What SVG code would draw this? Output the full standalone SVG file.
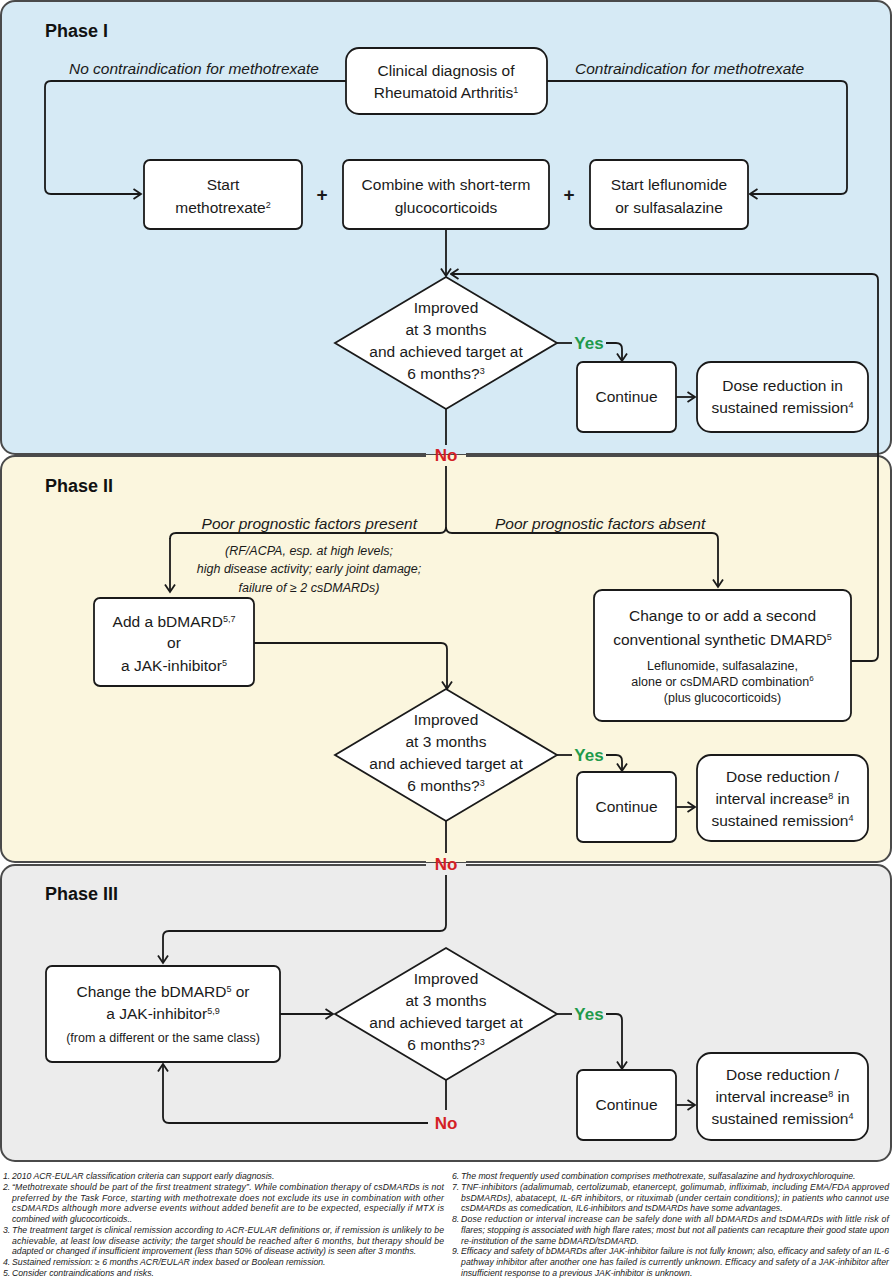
<svg xmlns="http://www.w3.org/2000/svg" width="893" height="1280" viewBox="0 0 893 1280">
<style>
.panel{stroke:#4a4a4a;stroke-width:2}
.node{fill:#fff;stroke:#1a1a1a;stroke-width:1.8}
.t{font-family:"Liberation Sans",Arial,sans-serif;font-size:15.5px;fill:#1a1a1a;text-anchor:middle}
.s{font-size:12.5px}
.sup{font-size:9px}
.plus{font-family:"Liberation Sans",Arial,sans-serif;font-size:19px;font-weight:bold;fill:#1a1a1a;text-anchor:middle}
.lab{font-family:"Liberation Sans",Arial,sans-serif;font-style:italic;font-size:15.5px;fill:#1a1a1a}
.labs{font-family:"Liberation Sans",Arial,sans-serif;font-style:italic;font-size:12.5px;fill:#1a1a1a;text-anchor:middle}
.ph{font-family:"Liberation Sans",Arial,sans-serif;font-weight:bold;font-size:18px;fill:#111}
.yes{font-family:"Liberation Sans",Arial,sans-serif;font-weight:bold;font-size:17px;fill:#1f9a4b;text-anchor:middle}
.no{font-family:"Liberation Sans",Arial,sans-serif;font-weight:bold;font-size:17px;fill:#d41f26;text-anchor:middle}
.c{fill:none;stroke:#1a1a1a;stroke-width:1.8}
.ar{marker-end:url(#a)}
.fn{font-family:"Liberation Sans",Arial,sans-serif;font-style:italic;font-size:8.7px;fill:#222}
</style>
<defs>
<marker id="a" viewBox="0 0 12 12" refX="10.5" refY="6" markerWidth="12" markerHeight="12" markerUnits="userSpaceOnUse" orient="auto">
<path d="M3,1 L10.5,6 L3,11" fill="none" stroke="#1a1a1a" stroke-width="1.8"/>
</marker>
</defs>

<g id="panels">
<rect class="panel" x="1" y="1" width="890" height="453" rx="14" fill="#d6eaf5"/>
<rect class="panel" x="1" y="456" width="890" height="406" rx="14" fill="#fbf6de"/>
<rect class="panel" x="1" y="865" width="890" height="296" rx="14" fill="#ececec"/>
<rect x="426" y="444" width="40" height="10" fill="#d6eaf5"/>
<rect x="426" y="455" width="40" height="10" fill="#fbf6de"/>
<rect x="426" y="853" width="40" height="9" fill="#fbf6de"/>
<rect x="426" y="863" width="40" height="11" fill="#ececec"/>
<text class="ph" x="45" y="37">Phase I</text>
<text class="ph" x="45" y="492">Phase II</text>
<text class="ph" x="45" y="900">Phase III</text>
</g>

<g id="connectors">
<path class="c ar" d="M346,81 H51 Q45,81 45,87 V188 Q45,194 51,194 H141"/>
<path class="c ar" d="M547,81 H841 Q847,81 847,87 V188 Q847,194 841,194 H750"/>
<text class="lab" x="69" y="74">No contraindication for methotrexate</text>
<text class="lab" x="575" y="74">Contraindication for methotrexate</text>
<text class="plus" x="322" y="201">+</text>
<text class="plus" x="569" y="201">+</text>
<path class="c ar" d="M446,229 V276"/>
<path class="c ar" d="M851,661 H872 Q878,661 878,655 V280 Q878,274 872,274 H451"/>
<path class="c" d="M557,343 H572"/>
<text class="yes" x="589" y="349">Yes</text>
<path class="c ar" d="M606,343 H616 Q622,343 622,349 V361"/>
<path class="c ar" d="M676,397 H695"/>
<path class="c" d="M446,409 V445"/>
<text class="no" x="446" y="461">No</text>
<path class="c" d="M446,466 V527 Q446,533 440,533 H176 Q170,533 170,539"/>
<path class="c ar" d="M170,538 V592"/>
<path class="c ar" d="M446,527 Q446,533 452,533 H712 Q718,533 718,539 V587"/>
<text class="lab" x="417" y="529" text-anchor="end">Poor prognostic factors present</text>
<text class="lab" x="495" y="529">Poor prognostic factors absent</text>
<text class="labs" x="309" y="555">(RF/ACPA, esp. at high levels;</text>
<text class="labs" x="309" y="573">high disease activity; early joint damage;</text>
<text class="labs" x="309" y="592">failure of ≥ 2 csDMARDs)</text>
<path class="c ar" d="M254,643 H441 Q447,643 447,649 V689"/>
<path class="c" d="M557,755 H572"/>
<text class="yes" x="589" y="761">Yes</text>
<path class="c ar" d="M606,755 H616 Q622,755 622,761 V771"/>
<path class="c ar" d="M676,807 H695"/>
<path class="c" d="M446,821 V853"/>
<text class="no" x="446" y="870">No</text>
<path class="c ar" d="M446,875 V925 Q446,931 440,931 H169 Q163,931 163,937 V963"/>
<path class="c ar" d="M280,1014 H333"/>
<path class="c" d="M557,1014 H572"/>
<text class="yes" x="589" y="1020">Yes</text>
<path class="c ar" d="M606,1014 H616 Q622,1014 622,1020 V1069"/>
<path class="c ar" d="M676,1105 H695"/>
<path class="c" d="M446,1080 V1110"/>
<text class="no" x="446" y="1129">No</text>
<path class="c ar" d="M428,1123 H169 Q163,1123 163,1117 V1064"/>
</g>

<g id="n-diagnosis">
<rect class="node" x="346" y="48" width="201" height="66" rx="13"/>
<text class="t" x="446" y="76">Clinical diagnosis of</text>
<text class="t" x="446" y="98">Rheumatoid Arthritis<tspan class="sup" dy="-5">1</tspan></text>
</g>
<g id="n-mtx">
<rect class="node" x="144" y="160" width="158" height="69" rx="6"/>
<text class="t" x="223" y="190">Start</text>
<text class="t" x="223" y="213">methotrexate<tspan class="sup" dy="-5">2</tspan></text>
</g>
<g id="n-gc">
<rect class="node" x="343" y="160" width="206" height="69" rx="6"/>
<text class="t" x="446" y="190">Combine with short-term</text>
<text class="t" x="446" y="213">glucocorticoids</text>
</g>
<g id="n-lef">
<rect class="node" x="590" y="160" width="158" height="69" rx="6"/>
<text class="t" x="669" y="190">Start leflunomide</text>
<text class="t" x="669" y="213">or sulfasalazine</text>
</g>
<g id="n-dec1">
<polygon class="node" points="446,277 557,343 446,409 335,343"/>
<text class="t" x="446" y="313">Improved</text>
<text class="t" x="446" y="335">at 3 months</text>
<text class="t" x="446" y="357">and achieved target at</text>
<text class="t" x="446" y="379">6 months?<tspan class="sup" dy="-5">3</tspan></text>
</g>
<g id="n-cont1">
<rect class="node" x="577" y="362" width="99" height="70" rx="6"/>
<text class="t" x="626.5" y="402">Continue</text>
</g>
<g id="n-dose1">
<rect class="node" x="697" y="362" width="171" height="70" rx="14"/>
<text class="t" x="782.5" y="391">Dose reduction in</text>
<text class="t" x="782.5" y="413">sustained remission<tspan class="sup" dy="-5">4</tspan></text>
</g>

<g id="n-bdmard">
<rect class="node" x="94" y="598" width="160" height="88" rx="6"/>
<text class="t" x="174" y="627">Add a bDMARD<tspan class="sup" dy="-5">5,7</tspan></text>
<text class="t" x="174" y="648">or</text>
<text class="t" x="174" y="671">a JAK-inhibitor<tspan class="sup" dy="-5">5</tspan></text>
</g>
<g id="n-csdmard">
<rect class="node" x="594" y="590" width="257" height="131" rx="8"/>
<text class="t" x="722.5" y="621">Change to or add a second</text>
<text class="t" x="722.5" y="645">conventional synthetic DMARD<tspan class="sup" dy="-5">5</tspan></text>
<text class="t s" x="722.5" y="670">Leflunomide, sulfasalazine,</text>
<text class="t s" x="722.5" y="686">alone or csDMARD combination<tspan class="sup" dy="-5" style="font-size:8px">6</tspan></text>
<text class="t s" x="722.5" y="702">(plus glucocorticoids)</text>
</g>
<g id="n-dec2">
<polygon class="node" points="446,689 557,755 446,821 335,755"/>
<text class="t" x="446" y="725">Improved</text>
<text class="t" x="446" y="747">at 3 months</text>
<text class="t" x="446" y="769">and achieved target at</text>
<text class="t" x="446" y="791">6 months?<tspan class="sup" dy="-5">3</tspan></text>
</g>
<g id="n-cont2">
<rect class="node" x="577" y="772" width="99" height="70" rx="6"/>
<text class="t" x="626.5" y="812">Continue</text>
</g>
<g id="n-dose2">
<rect class="node" x="697" y="755" width="171" height="86" rx="14"/>
<text class="t" x="782.5" y="782">Dose reduction /</text>
<text class="t" x="782.5" y="804">interval increase<tspan class="sup" dy="-5">8</tspan><tspan dy="5"> in</tspan></text>
<text class="t" x="782.5" y="826">sustained remission<tspan class="sup" dy="-5">4</tspan></text>
</g>

<g id="n-change">
<rect class="node" x="46" y="966" width="234" height="96" rx="6"/>
<text class="t" x="163" y="997">Change the bDMARD<tspan class="sup" dy="-5">5</tspan><tspan dy="5"> or</tspan></text>
<text class="t" x="163" y="1019">a JAK-inhibitor<tspan class="sup" dy="-5">5,9</tspan></text>
<text class="t s" x="163" y="1042">(from a different or the same class)</text>
</g>
<g id="n-dec3">
<polygon class="node" points="446,948 557,1014 446,1080 335,1014"/>
<text class="t" x="446" y="984">Improved</text>
<text class="t" x="446" y="1006">at 3 months</text>
<text class="t" x="446" y="1028">and achieved target at</text>
<text class="t" x="446" y="1050">6 months?<tspan class="sup" dy="-5">3</tspan></text>
</g>
<g id="n-cont3">
<rect class="node" x="577" y="1070" width="99" height="70" rx="6"/>
<text class="t" x="626.5" y="1110">Continue</text>
</g>
<g id="n-dose3">
<rect class="node" x="697" y="1053" width="171" height="87" rx="14"/>
<text class="t" x="782.5" y="1080">Dose reduction /</text>
<text class="t" x="782.5" y="1102">interval increase<tspan class="sup" dy="-5">8</tspan><tspan dy="5"> in</tspan></text>
<text class="t" x="782.5" y="1124">sustained remission<tspan class="sup" dy="-5">4</tspan></text>
</g>

<g id="footnotes" class="fn">
<text x="3" y="1179">1.</text><text x="12" y="1179">2010 ACR-EULAR classification criteria can support early diagnosis.</text>
<text x="3" y="1190">2.</text><text x="12" y="1190" textLength="432" lengthAdjust="spacing">“Methotrexate should be part of the first treatment strategy”. While combination therapy of csDMARDs is not</text>
<text x="12" y="1201" textLength="432" lengthAdjust="spacing">preferred by the Task Force, starting with methotrexate does not exclude its use in combination with other</text>
<text x="12" y="1211" textLength="432" lengthAdjust="spacing">csDMARDs although more adverse events without added benefit are to be expected, especially if MTX is</text>
<text x="12" y="1222">combined with glucocorticoids..</text>
<text x="3" y="1233">3.</text><text x="12" y="1233" textLength="432" lengthAdjust="spacing">The treatment target is clinical remission according to ACR-EULAR definitions or, if remission is unlikely to be</text>
<text x="12" y="1244" textLength="432" lengthAdjust="spacing">achievable, at least low disease activity; the target should be reached after 6 months, but therapy should be</text>
<text x="12" y="1254">adapted or changed if insufficient improvement (less than 50% of disease activity) is seen after 3 months.</text>
<text x="3" y="1265">4.</text><text x="12" y="1265">Sustained remission: ≥ 6 months ACR/EULAR index based or Boolean remission.</text>
<text x="3" y="1276">5.</text><text x="12" y="1276">Consider contraindications and risks.</text>

<text x="452" y="1179">6.</text><text x="461" y="1179">The most frequently used combination comprises methotrexate, sulfasalazine and hydroxychloroquine.</text>
<text x="452" y="1190">7.</text><text x="461" y="1190" textLength="428" lengthAdjust="spacing">TNF-inhibitors (adalimumab, certolizumab, etanercept, golimumab, infliximab, including EMA/FDA approved</text>
<text x="461" y="1201" textLength="428" lengthAdjust="spacing">bsDMARDs), abatacept, IL-6R inhibitors, or rituximab (under certain conditions); in patients who cannot use</text>
<text x="461" y="1211">csDMARDs as comedication, IL6-inhibitors and tsDMARDs have some advantages.</text>
<text x="452" y="1222">8.</text><text x="461" y="1222" textLength="428" lengthAdjust="spacing">Dose reduction or interval increase can be safely done with all bDMARDs and tsDMARDs with little risk of</text>
<text x="461" y="1233" textLength="428" lengthAdjust="spacing">flares; stopping is associated with high flare rates; most but not all patients can recapture their good state upon</text>
<text x="461" y="1244">re-institution of the same bDMARD/tsDMARD.</text>
<text x="452" y="1254">9.</text><text x="461" y="1254" textLength="428" lengthAdjust="spacing">Efficacy and safety of bDMARDs after JAK-inhibitor failure is not fully known; also, efficacy and safety of an IL-6</text>
<text x="461" y="1265" textLength="428" lengthAdjust="spacing">pathway inhibitor after another one has failed is currently unknown. Efficacy and safety of a JAK-inhibitor after</text>
<text x="461" y="1276">insufficient response to a previous JAK-inhibitor is unknown.</text>
</g>
</svg>
